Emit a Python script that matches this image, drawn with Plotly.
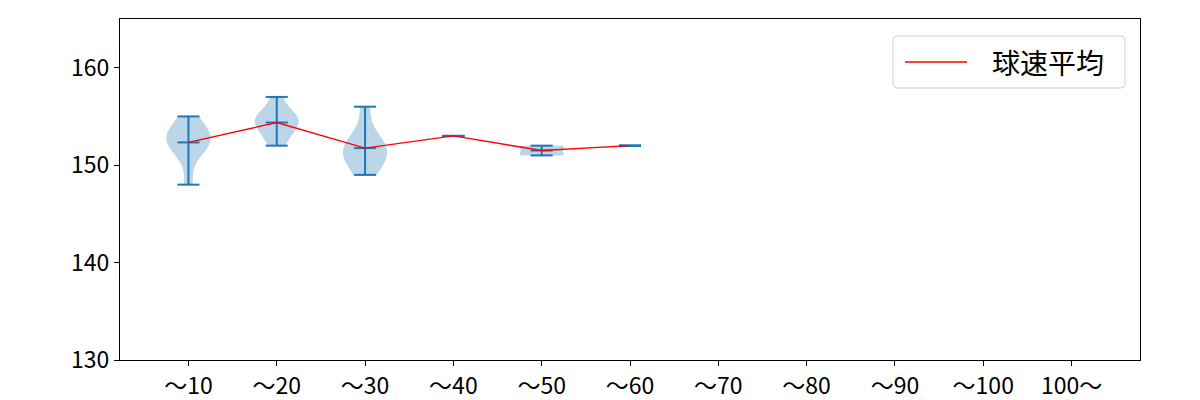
import numpy as np
import plotly.graph_objects as go

categories = ["〜10", "〜20", "〜30", "〜40", "〜50", "〜60", "〜70", "〜80", "〜90", "〜100", "100〜"]
speeds = [
    [148, 151, 152, 152, 153, 153, 153, 154, 155],
    [152, 153, 154, 154, 155, 155, 155, 157],
    [149, 150, 151, 151, 152, 152, 153, 156],
    [153],
    [151, 151, 152, 152],
    [152],
    [], [], [], [], [],
]
legend_label = "球速平均"
y_ticks = [130, 140, 150, 160]

positions = list(range(1, len(categories) + 1))
BLUE = "#1f77b4"
FONT = "Noto Sans CJK JP"

fig = go.Figure()

# violin bodies (Scott's rule bandwidth like matplotlib)
for pos, vals in zip(positions, speeds):
    arr = np.asarray(vals, dtype=float)
    if len(arr) < 2 or arr.std() == 0:
        continue
    bw = arr.std(ddof=1) * len(arr) ** (-1 / 5)
    fig.add_trace(go.Violin(
        x=[pos] * len(arr), y=arr, width=0.5, scalemode="width", spanmode="hard",
        bandwidth=bw, points=False, box_visible=False, meanline_visible=False,
        fillcolor="rgba(31,119,180,0.3)", line=dict(width=0, color="rgba(0,0,0,0)"),
        hoverinfo="skip", showlegend=False, orientation="v",
    ))

# min / max / mean caps and vertical bars
cx, cy = [], []
for pos, vals in zip(positions, speeds):
    if not vals:
        continue
    lo, hi, mu = min(vals), max(vals), float(np.mean(vals))
    for v in (lo, hi, mu):
        cx += [pos - 0.125, pos + 0.125, None]
        cy += [v, v, None]
    cx += [pos, pos, None]
    cy += [lo, hi, None]
fig.add_trace(go.Scatter(x=cx, y=cy, mode="lines", line=dict(color=BLUE, width=2),
                         hoverinfo="skip", showlegend=False))

# mean line
mx = [p for p, v in zip(positions, speeds) if v]
my = [float(np.mean(v)) for v in speeds if v]
fig.add_trace(go.Scatter(x=mx, y=my, mode="lines", line=dict(color="red", width=1.4),
                         name=legend_label, showlegend=False))

axis_common = dict(showline=True, mirror=True, linecolor="black", linewidth=1,
                   ticks="outside", ticklen=5, tickwidth=1, tickcolor="black",
                   showgrid=False, zeroline=False, automargin=False,
                   tickfont=dict(family=FONT, size=23, color="black"))

# plot area in page pixels: x 120..1140, y 19..360
PX0, PX1, PY0, PY1 = 120, 1140, 19, 360
def px(x):
    return (x - PX0) / (PX1 - PX0)
def py(y):
    return (PY1 - y) / (PY1 - PY0)

# legend (matplotlib-style box)
bx0, bx1, by0, by1, r = 893, 1125, 36, 88, 4
path = (f"M{px(bx0 + r)},{py(by0)} L{px(bx1 - r)},{py(by0)} Q{px(bx1)},{py(by0)} {px(bx1)},{py(by0 + r)} "
        f"L{px(bx1)},{py(by1 - r)} Q{px(bx1)},{py(by1)} {px(bx1 - r)},{py(by1)} "
        f"L{px(bx0 + r)},{py(by1)} Q{px(bx0)},{py(by1)} {px(bx0)},{py(by1 - r)} "
        f"L{px(bx0)},{py(by0 + r)} Q{px(bx0)},{py(by0)} {px(bx0 + r)},{py(by0)} Z")
fig.add_shape(type="path", path=path, xref="paper", yref="paper",
              line=dict(color="#d0d0d0", width=1), fillcolor="rgba(255,255,255,0.8)")
fig.add_shape(type="line", xref="paper", yref="paper", x0=px(905), x1=px(967),
              y0=py(62), y1=py(62), line=dict(color="red", width=1.4))
fig.add_annotation(text=legend_label, xref="paper", yref="paper", x=px(990), y=py(62),
                   xanchor="left", yanchor="middle", showarrow=False,
                   font=dict(family=FONT, size=28, color="black"))

fig.update_layout(
    width=1200, height=400,
    margin=dict(l=112, r=68, t=11, b=48),
    plot_bgcolor="white", paper_bgcolor="white",
    violinmode="overlay", showlegend=False,
    font=dict(family=FONT, color="black"),
    xaxis=dict(range=[0.225, 11.775], tickvals=positions, ticktext=categories, **axis_common),
    yaxis=dict(range=[130, 165], tickvals=y_ticks, **axis_common),
)

fig.write_html("out.html")
